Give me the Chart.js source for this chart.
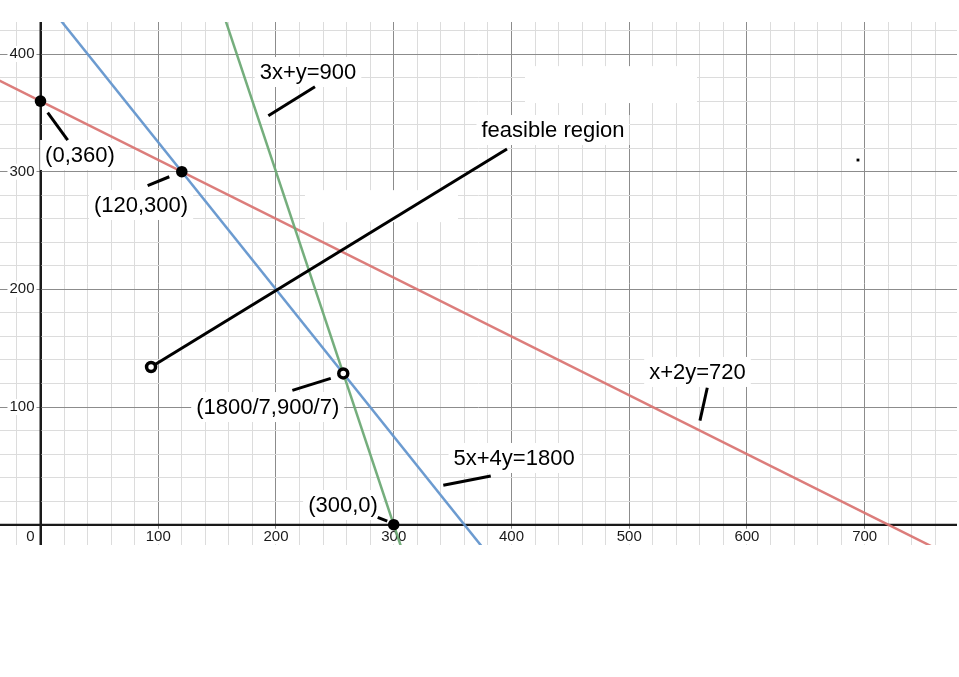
<!DOCTYPE html>
<html>
<head>
<meta charset="utf-8">
<script src="https://cdn.jsdelivr.net/npm/chart.js@4.4.0/dist/chart.umd.min.js"></script>
<style>
  html, body { margin: 0; padding: 0; background: #fff; }
  canvas { display: block; }
</style>
</head>
<body>
<canvas id="graph" width="959" height="677"></canvas>
<script>
// constraint lines, two points each (clipped to the plot)
const redLineX = [-40, 800];     // x+2y=720
const redLineY = [380, -40];
const blueLineX = [0, 400];      // 5x+4y=1800
const blueLineY = [450, -50];
const greenLineX = [140, 320];   // 3x+y=900
const greenLineY = [480, -60];

// corner points
const dotX = [0, 120, 300];
const dotY = [360, 300, 0];
const ringX = [1800 / 7, 93.9];
const ringY = [900 / 7, 134];

// leader strokes from labels to points
const leaderX1 = [6.1, 91.0, 193.5, 93.9, 213.9, 286.4, 342.1, 560.1];
const leaderY1 = [350.1, 288.1, 347.6, 134.0, 114.2, 6.3, 33.5, 88.4];
const leaderX2 = [23.1, 109.4, 233.1, 396.2, 246.5, 294.5, 382.4, 566.3];
const leaderY2 = [326.9, 295.7, 372.2, 319.3, 124.4, 3.1, 41.4, 116.4];

// text labels (centre in graph units)
const labelText = ['3x+y=900', 'feasible region', '(0,360)', '(120,300)',
  '(1800/7,900/7)', '(300,0)', '5x+4y=1800', 'x+2y=720'];
const labelX = [227.2, 435.3, 33.5, 85.4, 193.0, 256.9, 402.2, 558.0];
const labelY = [384.7, 335.4, 314.2, 271.7, 100.0, 16.7, 56.7, 129.8];

// tick labels
const xTickValues = [0, 100, 200, 300, 400, 500, 600, 700];
const yTickValues = [100, 200, 300, 400];

// stray marks from the original screenshot
const patchX1 = [411.5, 224.6];
const patchX2 = [557.6, 354.6];
const patchY1 = [389.7, 284.3];
const patchY2 = [358.3, 257.1];
const speckX = [694.3];
const speckY = [309.9];

const LABEL_FONT = '22px "Liberation Sans", Arial, sans-serif';
const TICK_FONT = '15px "Liberation Sans", Arial, sans-serif';

function pts(xs, ys) {
  return xs.map((x, i) => ({ x: x, y: ys[i] }));
}

const datasets = [];

datasets.push({
  data: pts(speckX, speckY),
  pointStyle: 'rect', pointRadius: 2, pointBackgroundColor: '#000', pointBorderWidth: 0,
  showLine: false
});
datasets.push({
  data: pts(dotX, dotY),
  pointRadius: 5.8, pointBackgroundColor: '#000', pointBorderColor: '#000', pointBorderWidth: 0,
  showLine: false
});
datasets.push({
  data: pts(ringX, ringY),
  pointRadius: 4.5, pointBackgroundColor: '#fff', pointBorderColor: '#000', pointBorderWidth: 3.5,
  showLine: false
});
leaderX1.forEach((x, i) => {
  datasets.push({
    data: [{ x: x, y: leaderY1[i] }, { x: leaderX2[i], y: leaderY2[i] }],
    showLine: true, borderColor: '#000', borderWidth: 3, pointRadius: 0
  });
});
[[greenLineX, greenLineY, 'rgba(110,170,118,0.95)'],
 [blueLineX, blueLineY, 'rgba(100,150,206,0.95)'],
 [redLineX, redLineY, 'rgba(218,118,116,0.95)']].forEach(l => {
  datasets.push({
    data: pts(l[0], l[1]),
    showLine: true, borderColor: l[2], borderWidth: 2.5, pointRadius: 0, clip: 0
  });
});

function labelBox(ctx, cx, cy, text) {
  ctx.font = LABEL_FONT;
  const w = ctx.measureText(text).width;
  return { x: cx - w / 2 - 5, y: cy - 15, w: w + 10, h: 30 };
}

const decor = {
  id: 'decor',
  beforeDatasetsDraw(chart) {
    const ctx = chart.ctx;
    const xs = chart.scales.x, ys = chart.scales.y;
    const area = chart.chartArea;
    ctx.save();
    const x0 = xs.getPixelForValue(0);
    const y0 = ys.getPixelForValue(0);
    // axes on top of the grid
    ctx.strokeStyle = '#1a1a1a';
    ctx.lineWidth = 2;
    ctx.beginPath();
    ctx.moveTo(x0, area.top); ctx.lineTo(x0, area.bottom);
    ctx.moveTo(area.left, y0); ctx.lineTo(area.right, y0);
    ctx.stroke();
    ctx.fillStyle = '#fff';
    // white patches
    patchX1.forEach((x, i) => {
      const l = xs.getPixelForValue(x), r = xs.getPixelForValue(patchX2[i]);
      const t = ys.getPixelForValue(patchY1[i]), b = ys.getPixelForValue(patchY2[i]);
      ctx.fillRect(l, t, r - l, b - t);
    });
    // label backgrounds
    labelText.forEach((t, i) => {
      const bx = labelBox(ctx, xs.getPixelForValue(labelX[i]), ys.getPixelForValue(labelY[i]), t);
      ctx.fillStyle = '#fff';
      ctx.fillRect(bx.x, bx.y, bx.w, bx.h);
    });
    // tick labels
    ctx.font = TICK_FONT;
    ctx.textBaseline = 'middle';
    ctx.textAlign = 'left';
    const yLab = y0 + 12;
    xTickValues.forEach(v => {
      const s = String(v);
      const w = ctx.measureText(s).width;
      const px = xs.getPixelForValue(v);
      const left = v === 0 ? x0 - 6 - w : px - w / 2;
      ctx.fillStyle = '#fff';
      ctx.fillRect(left - 2, yLab - 8, w + 4, 16);
      ctx.fillStyle = '#1a1a1a';
      ctx.fillText(s, left, yLab);
    });
    yTickValues.forEach(v => {
      const s = String(v);
      const w = ctx.measureText(s).width;
      const py = ys.getPixelForValue(v);
      const left = x0 - 6 - w;
      ctx.fillStyle = '#fff';
      ctx.fillRect(left - 2, py - 8, w + 4, 16);
      ctx.fillStyle = '#1a1a1a';
      ctx.fillText(s, left, py);
    });
    ctx.restore();
  },
  afterDatasetsDraw(chart) {
    const ctx = chart.ctx;
    const xs = chart.scales.x, ys = chart.scales.y;
    ctx.save();
    ctx.font = LABEL_FONT;
    ctx.fillStyle = '#000';
    ctx.textAlign = 'center';
    ctx.textBaseline = 'middle';
    labelText.forEach((t, i) => {
      ctx.fillText(t, xs.getPixelForValue(labelX[i]), ys.getPixelForValue(labelY[i]) + 1);
    });
    ctx.restore();
  }
};

function gridColor(c) {
  const v = Math.round(c.tick.value);
  if (v === 0) return '#1a1a1a';
  if (v % 100 === 0) return '#8c8c8c';
  return '#dcdcdc';
}
function gridWidth(c) {
  return Math.round(c.tick.value) === 0 ? 2 : 1;
}
function flatten(scale) {
  if (scale.isHorizontal()) scale.height = 0; else scale.width = 0;
  scale.paddingLeft = 0; scale.paddingRight = 0;
  scale.paddingTop = 0; scale.paddingBottom = 0;
}

new Chart(document.getElementById('graph'), {
  type: 'scatter',
  data: { datasets: datasets },
  options: {
    responsive: false,
    animation: false,
    devicePixelRatio: 1,
    layout: { autoPadding: false, padding: { top: 22, left: 0, right: 2, bottom: 132 } },
    plugins: { legend: { display: false }, tooltip: { enabled: false } },
    scales: {
      x: {
        type: 'linear', min: -34.4, max: 778.4,
        ticks: { display: false, stepSize: 20, includeBounds: false, padding: 0 },
        grid: { color: gridColor, lineWidth: gridWidth, drawTicks: false, tickLength: 0 },
        border: { display: false },
        afterFit: flatten
      },
      y: {
        type: 'linear', min: -17.25, max: 427.2,
        ticks: { display: false, stepSize: 20, includeBounds: false, padding: 0 },
        grid: { color: gridColor, lineWidth: gridWidth, drawTicks: false, tickLength: 0 },
        border: { display: false },
        afterFit: flatten
      }
    }
  },
  plugins: [decor]
});
</script>
</body>
</html>
